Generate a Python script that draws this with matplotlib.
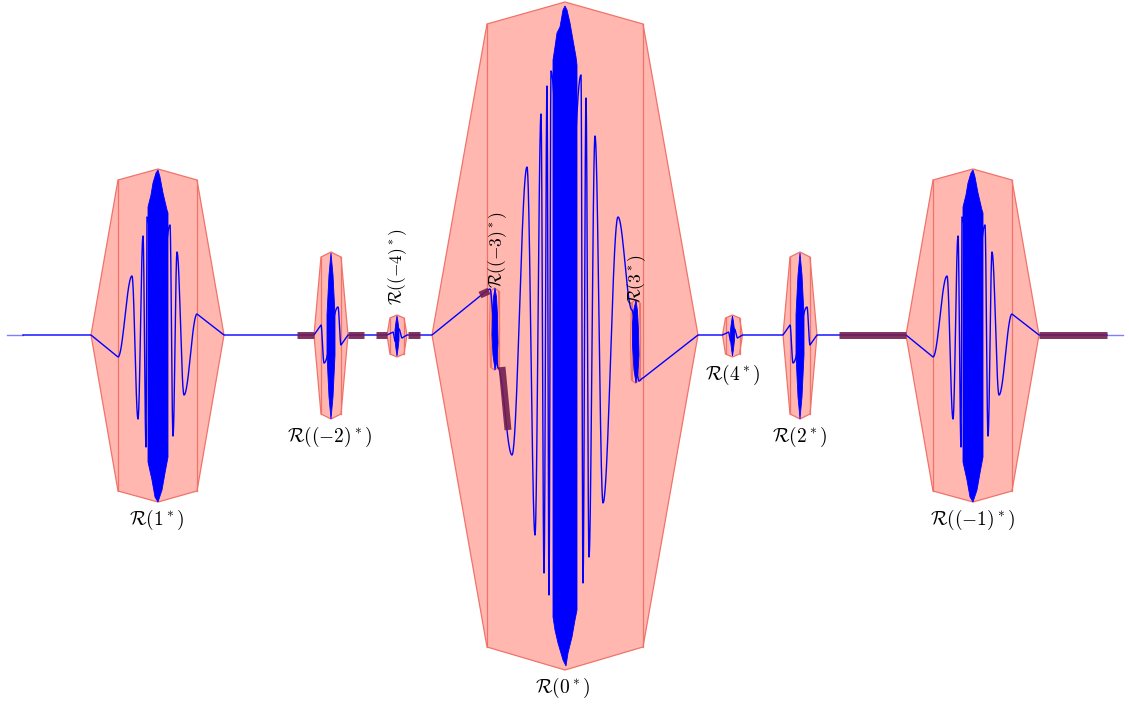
import numpy as np
import matplotlib.pyplot as plt
from matplotlib.patches import Polygon

plt.rcParams['mathtext.fontset'] = 'cm'

# v is the height above the axis line; shapes are offsets from a burst centre
big_centres = [158, 973]                       # R(1*), R((-1)*)
big_hull_dx = [-67, -40, 0, 39, 66, 39, 0, -40]
big_hull_v = [0, 155, 166, 155, 0, -156, -167, -156]
big_wave_dx = [-67, -40, -26, -20, -15, -12, -11, 0, 12, 15, 19, 26, 39, 66]
big_wave_v = [0, -22, 59, -84, 99, -112, 118, 0, 110, -101, 83, -60, 21, 0]
big_core_dx = [-10, -7, -5, -2, 0, 2, 5, 9, 10, 10, 7, 4, 0, -3, -6, -10]
big_core_v = [128, 140, 152, 162, 165, 158, 142, 125, 122,
              -122, -138, -155, -167, -162, -145, -127]

mid_centres = [331, 800]                       # R((-2)*), R(2*)
mid_hull_dx = [-17, -10, 0, 10, 17, 10, 0, -10]
mid_hull_v = [0, 78, 83, 78, 0, -79, -84, -79]
mid_wave_dx = [-17, -10, -7, 7, 10, 17]
mid_wave_v = [0, 10, -28, 28, -10, 0]
mid_core_dx = [0, 2, 4, 4, 2, 0, -2, -4, -4, -2]
mid_core_v = [82, 60, 20, -20, -62, -84, -62, -20, 20, 60]

small_centres = [397, 732.5]                   # R((-4)*), R(4*)
small_hull_dx = [-10, -7, 0, 7, 10, 7, 0, -7]
small_hull_v = [0, 17, 20, 17, 0, -19, -22, -19]
small_wave_dx = [-10, -4, -2, 2, 5, 10]
small_wave_v = [0, 3, -6, 6, -3, 0]
small_core_dx = [0, 1, 2, 2, 1, 0, -1, -2, -2, -1]
small_core_v = [19, 13, 5, -5, -14, -21, -14, -5, 5, 13]

# R(0*) in absolute coordinates
zero_hull_x = [432, 487, 565, 643, 698, 643, 565, 487]
zero_hull_v = [0, 311, 333, 311, 0, -312, -335, -312]
zero_wave_x = [432, 485, 490, 495, 498, 512, 527, 535, 541, 544, 547, 549, 551,
               565, 581, 583, 586, 589, 595, 603, 618, 632, 639, 643, 698]
zero_wave_v = [0, 43, 46, 0, -33, -120, 168, -200, 221, -238, 249, -260, 264,
               0, 260, -248, 237, -222, 199, -168, 118, 25, -46, -43, 0]
zero_core_x = [553, 555, 557, 560, 563, 565, 567, 570, 573, 576, 577,
               577, 575, 572, 568, 566, 563, 558, 555, 553]
zero_core_v = [275, 288, 302, 308, 325, 329, 325, 312, 295, 278, 270,
               -275, -285, -302, -318, -331, -325, -308, -295, -282]

# the two little bursts sitting inside R(0*)
minus3_hull_x = [489.5, 490.5, 494.5, 498.5, 499.5, 498.5, 494.5, 490.5]
minus3_hull_v = [6, 44, 47, 44, 6, -32, -35, -32]
minus3_core_x = [495, 496.5, 497.5, 498, 497, 495, 493, 492, 492.5, 493.5]
minus3_core_v = [47, 38, 20, -8, -26, -35, -20, 0, 22, 38]
three_hull_x = [630.5, 631.5, 635.5, 639.5, 640.5, 639.5, 635.5, 631.5]
three_hull_v = [-6, 32, 35, 32, -6, -45, -48, -45]
three_core_x = [636, 637.5, 638.5, 639, 638, 636, 634, 632.5, 632.5, 634]
three_core_v = [35, 24, 5, -20, -38, -48, -35, -10, 12, 26]

# thick purple marks on the graph
bar_x0 = [297, 348, 376, 408, 480, 502, 839, 1039]
bar_v0 = [0, 0, 0, 0, 40, -32, 0, 0]
bar_x1 = [314, 364, 387, 420, 489, 508, 906, 1107]
bar_v1 = [0, 0, 0, 0, 44, -95, 0, 0]

axis_ends = [7, 23, 1107, 1123]

label_text = [r'$\mathcal{R}(1^*)$', r'$\mathcal{R}((-2)^*)$', r'$\mathcal{R}((-4)^*)$',
              r'$\mathcal{R}((-3)^*)$', r'$\mathcal{R}(3^*)$', r'$\mathcal{R}(4^*)$',
              r'$\mathcal{R}(2^*)$', r'$\mathcal{R}((-1)^*)$', r'$\mathcal{R}(0^*)$']
label_x = [157, 330, 398, 498, 637, 733, 800, 973, 563]
label_v = [-185, -102, 68, 85, 56, -40, -102, -185, -353]
label_rot = [0, 0, 90, 90, 90, 0, 0, 0, 0]

FILL = '#FFB7B0'
EDGE = '#F0736A'
BLUE = '#0000FF'
PURPLE = '#731E50'


def wave(px, pv, n=40):
    # straight first/last legs, half-cosine arcs between the extrema
    xs, vs = [px[0]], [pv[0]]
    last = len(px) - 2
    for i in range(len(px) - 1):
        if i == 0 or i == last:
            t = np.array([1.0])
        else:
            t = np.linspace(0, 1, n)[1:]
        s = (1 - np.cos(np.pi * t)) / 2
        xs.extend(px[i] + (px[i + 1] - px[i]) * t)
        vs.extend(pv[i] + (pv[i + 1] - pv[i]) * s)
    return xs, vs


def hull(ax, hx, hv, z=1):
    ax.add_patch(Polygon(np.column_stack([hx, hv]), closed=True, fc=FILL,
                         ec=EDGE, lw=0.9, zorder=z))
    # inner verticals joining the corner pairs
    ax.plot([hx[1], hx[7]], [hv[1], hv[7]], color=EDGE, lw=0.9, zorder=z + 0.1)
    ax.plot([hx[3], hx[5]], [hv[3], hv[5]], color=EDGE, lw=0.9, zorder=z + 0.1)


def core(ax, cx, cv):
    ax.add_patch(Polygon(np.column_stack([cx, cv]), closed=True, fc=BLUE,
                         ec=BLUE, lw=0.6, zorder=3.5))


fig = plt.figure(figsize=(11.29, 7.06), dpi=100)
ax = fig.add_axes([0, 0, 1, 1])
ax.set_xlim(0, 1129)
ax.set_ylim(-371, 335)
ax.axis('off')

shapes = [(big_centres, big_hull_dx, big_hull_v, big_wave_dx, big_wave_v, big_core_dx, big_core_v),
          (mid_centres, mid_hull_dx, mid_hull_v, mid_wave_dx, mid_wave_v, mid_core_dx, mid_core_v),
          (small_centres, small_hull_dx, small_hull_v, small_wave_dx, small_wave_v, small_core_dx, small_core_v)]

pieces = []
for centres, hdx, hv, wdx, wv, cdx, cv in shapes:
    for c in centres:
        hull(ax, np.add(c, hdx), hv)
        core(ax, np.add(c, cdx), cv)
        pieces.append(wave(list(np.add(c, wdx)), wv))

hull(ax, zero_hull_x, zero_hull_v)
core(ax, zero_core_x, zero_core_v)
pieces.append(wave(zero_wave_x, zero_wave_v))

hull(ax, minus3_hull_x, minus3_hull_v, z=2)
hull(ax, three_hull_x, three_hull_v, z=2)
core(ax, minus3_core_x, minus3_core_v)
core(ax, three_core_x, three_core_v)

# one polyline along the axis through every burst, left to right
pieces.sort(key=lambda p: p[0][0])
gx, gv = [axis_ends[1]], [0]
for px, pv in pieces:
    gx.extend(px)
    gv.extend(pv)
gx.append(axis_ends[2])
gv.append(0)
ax.plot(gx, gv, color=BLUE, lw=1.0, zorder=3)
ax.plot(axis_ends[:2], [0, 0], color=BLUE, lw=1.0, alpha=0.5, zorder=3)
ax.plot(axis_ends[2:], [0, 0], color=BLUE, lw=1.0, alpha=0.5, zorder=3)

for x0, v0, x1, v1 in zip(bar_x0, bar_v0, bar_x1, bar_v1):
    ax.plot([x0, x1], [v0, v1], color=PURPLE, lw=5, alpha=0.9,
            solid_capstyle='butt', zorder=4)

for t, x, v, r in zip(label_text, label_x, label_v, label_rot):
    ax.text(x, v, t, ha='center', va='center', rotation=r,
            fontsize=14 if r == 0 else 12.5, zorder=5)

fig.savefig('out.png', dpi=100)
